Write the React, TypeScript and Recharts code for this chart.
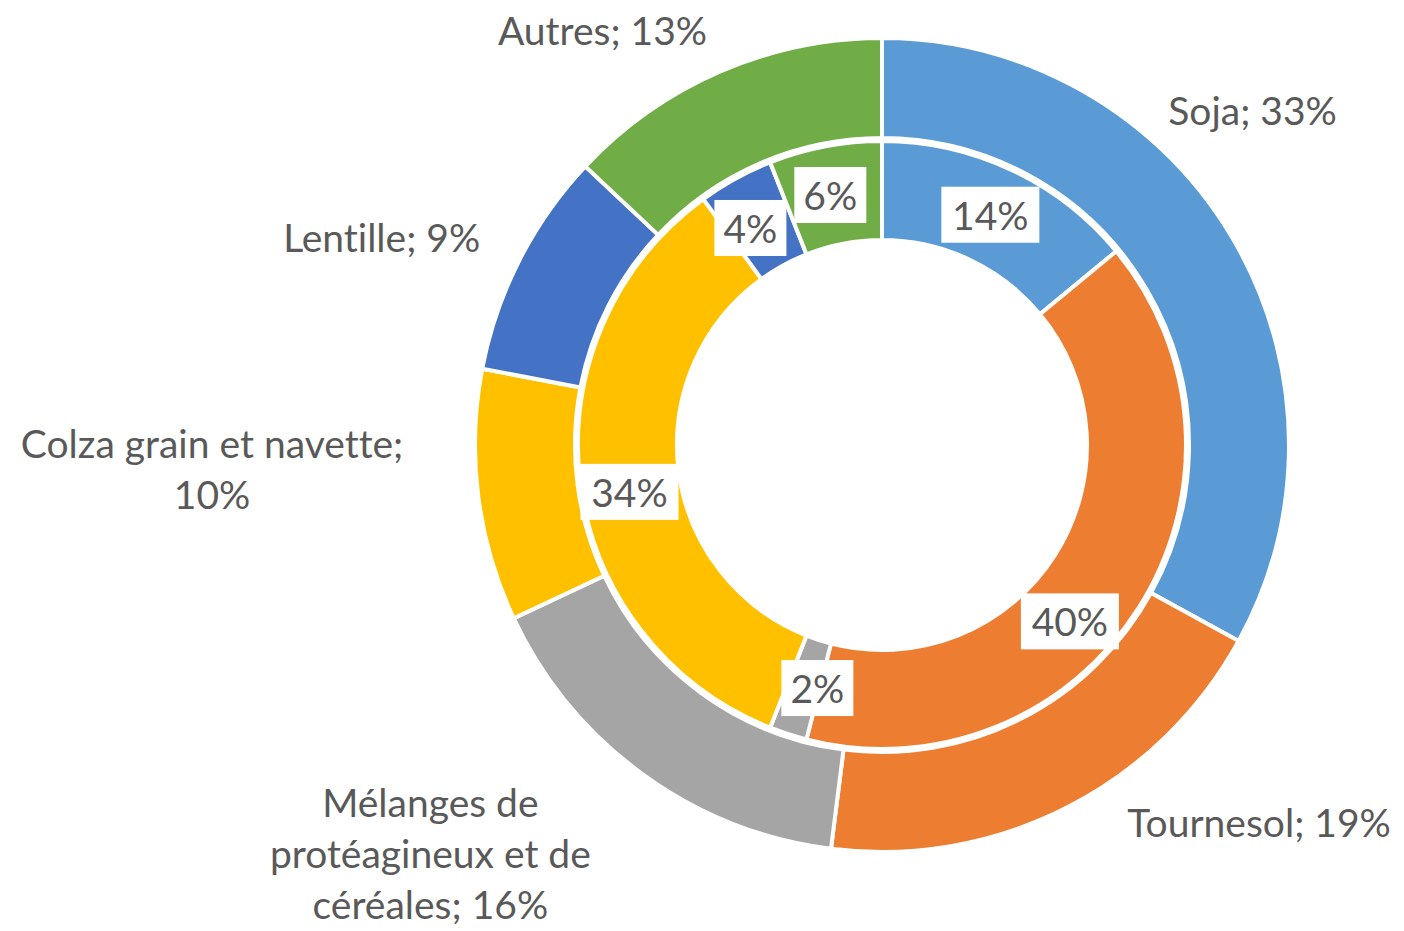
import { PieChart, Pie, Cell } from "recharts";

const CATEGORIES = ["Soja", "Tournesol", "Mélanges de protéagineux et de céréales", "Colza grain et navette", "Lentille", "Autres"];
const OUTER_VALUES = [33, 19, 16, 10, 9, 13];
const INNER_VALUES = [14, 40, 2, 34, 4, 6];
const OUTER_LABEL_LINES = [
  ["Soja; 33%"],
  ["Tournesol; 19%"],
  ["Mélanges de", "protéagineux et de", "céréales; 16%"],
  ["Colza grain et navette;", "10%"],
  ["Lentille; 9%"],
  ["Autres; 13%"],
];
const COLORS = ["#5B9BD5", "#ED7D31", "#A5A5A5", "#FFC000", "#4472C4", "#70AD47"];

const outerData = CATEGORIES.map((name, i) => ({ name, value: OUTER_VALUES[i] }));
const innerData = CATEGORIES.map((name, i) => ({ name, value: INNER_VALUES[i] }));

const FONT = "Lato, 'Open Sans', sans-serif";
const TEXT = "#595959";
const FS = 39;
const RAD = Math.PI / 180;

// label placement tweaks (Excel "best fit" doesn't sit on the mid angle)
const OUTER_NUDGE = [[-77, -70], [141, -86], [-146, -13], [-154, -42], [-37, 28], [-73, 62]];
const INNER_NUDGE = [[0, 0], [-27, 40], [14, 1], [0, 15], [-9, 6], [-4, 0]];

function polar(cx: number, cy: number, r: number, angle: number) {
  return { x: cx + r * Math.cos(-angle * RAD), y: cy + r * Math.sin(-angle * RAD) };
}

const textStyle = { fontVariantLigatures: "none" as const };

function OuterLabel(props: any) {
  const { cx, cy, midAngle, index } = props;
  const p = polar(cx, cy, 520, midAngle);
  const [dx, dy] = OUTER_NUDGE[index];
  const lines = OUTER_LABEL_LINES[index];
  const lh = 51;
  const y0 = p.y + dy - ((lines.length - 1) * lh) / 2;
  return (
    <text x={p.x + dx} y={y0} textAnchor="middle" dominantBaseline="central" fill={TEXT} fontSize={FS} fontFamily={FONT} style={textStyle}>
      {lines.map((l, k) => (
        <tspan key={k} x={p.x + dx} y={y0 + k * lh}>
          {l}
        </tspan>
      ))}
    </text>
  );
}

function InnerLabel(props: any) {
  const { cx, cy, midAngle, innerRadius, outerRadius, index, value } = props;
  const p = polar(cx, cy, (innerRadius + outerRadius) / 2, midAngle);
  const [dx, dy] = INNER_NUDGE[index];
  const txt = `${value}%`;
  const w = 20 + txt.length * 26;
  const h = 56;
  const x = p.x + dx;
  const y = p.y + dy;
  return (
    <g>
      <rect x={x - w / 2} y={y - h / 2} width={w} height={h} fill="#fff" />
      <text x={x} y={y} textAnchor="middle" dominantBaseline="central" fill={TEXT} fontSize={FS} fontFamily={FONT} style={textStyle}>
        {txt}
      </text>
    </g>
  );
}

export default function App() {
  return (
    <div style={{ position: "absolute", left: 0, top: 0, width: 1404, height: 931, background: "#fff" }}>
      <PieChart width={1404} height={931} margin={{ top: 0, right: 0, bottom: 0, left: 0 }}>
        <Pie
          data={innerData}
          dataKey="value"
          cx={882}
          cy={445}
          innerRadius={205}
          outerRadius={304}
          startAngle={90}
          endAngle={-270}
          stroke="#fff"
          strokeWidth={4}
          label={InnerLabel}
          labelLine={false}
          isAnimationActive={false}
        >
          {innerData.map((d, i) => (
            <Cell key={d.name} fill={COLORS[i]} />
          ))}
        </Pie>
        <Pie
          data={outerData}
          dataKey="value"
          cx={882}
          cy={445}
          innerRadius={307}
          outerRadius={407}
          startAngle={90}
          endAngle={-270}
          stroke="#fff"
          strokeWidth={4}
          label={OuterLabel}
          labelLine={false}
          isAnimationActive={false}
        >
          {outerData.map((d, i) => (
            <Cell key={d.name} fill={COLORS[i]} />
          ))}
        </Pie>
      </PieChart>
    </div>
  );
}
